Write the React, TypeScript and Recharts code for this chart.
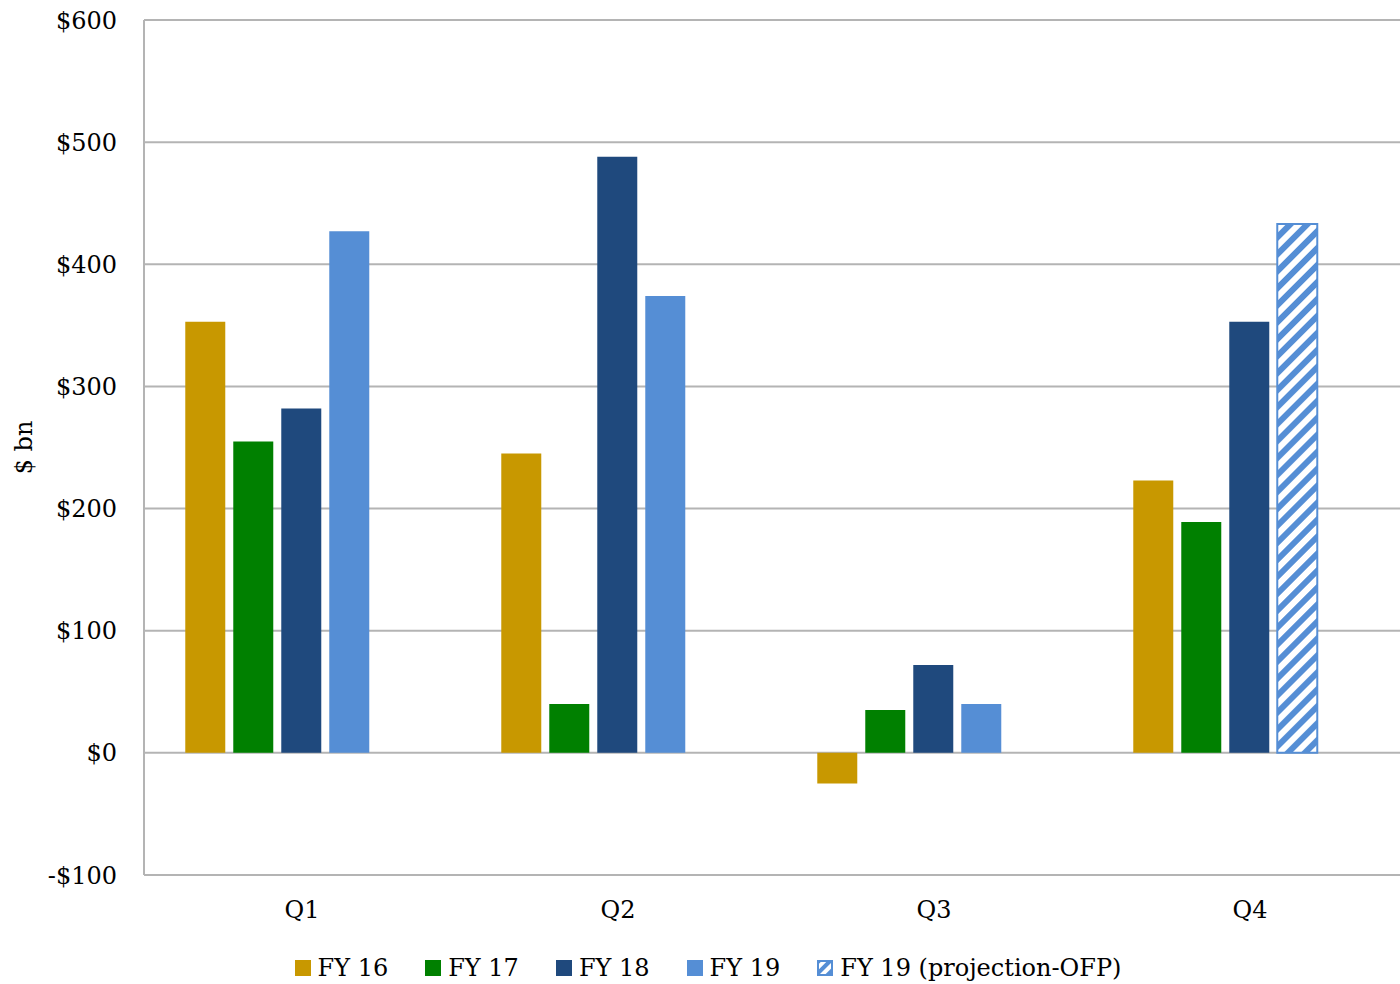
import * as React from "react"
import { BarChart, Bar, XAxis, YAxis, CartesianGrid, Cell } from "recharts"

// Quarterly values in $ bn, one array per fiscal year
const quarters = ["Q1", "Q2", "Q3", "Q4"]
const fy16 = [353, 245, -25, 223]
const fy17 = [255, 40, 35, 189]
const fy18 = [282, 488, 72, 353]
const fy19 = [427, 374, 40, null]
const fy19Projection = [null, null, null, 433]
const yTicks = [-100, 0, 100, 200, 300, 400, 500, 600]

const COLORS = {
  fy16: "#C89800",
  fy17: "#008000",
  fy18: "#1F497D",
  fy19: "#558ED5",
}

const FONT = "'DejaVu Serif', 'Liberation Serif', serif"
const FONT_SIZE = 24
const GRID = "#B4B4B4"

const data = quarters.map((q, i) => ({
  quarter: q,
  fy16: fy16[i],
  fy17: fy17[i],
  fy18: fy18[i],
  // the projection shares the FY 19 slot, drawn with a hatch
  fy19: fy19[i] ?? fy19Projection[i],
  projected: fy19[i] == null && fy19Projection[i] != null,
  // empty fifth slot kept from the projection series, so groups sit left of the tick
  spare: null as number | null,
}))

const formatDollar = (v: number) => (v < 0 ? `-$${-v}` : `$${v}`)

const legendItems = [
  { label: "FY 16", color: COLORS.fy16 },
  { label: "FY 17", color: COLORS.fy17 },
  { label: "FY 18", color: COLORS.fy18 },
  { label: "FY 19", color: COLORS.fy19 },
  { label: "FY 19 (projection-OFP)", color: COLORS.fy19, hatched: true },
]

const HatchSwatch = () => (
  <svg width={16} height={16} style={{ display: "block" }}>
    <defs>
      <pattern id="legend-hatch" patternUnits="userSpaceOnUse" width={8} height={8} patternTransform="rotate(45)">
        <rect width={8} height={8} fill="#fff" />
        <rect width={4} height={8} fill={COLORS.fy19} />
      </pattern>
    </defs>
    <rect x={1} y={1} width={14} height={14} fill="url(#legend-hatch)" stroke={COLORS.fy19} strokeWidth={2} />
  </svg>
)

const ChartLegend = () => (
  <div
    style={{
      position: "absolute",
      top: 952,
      left: 0,
      width: 1400,
      paddingLeft: 16,
      boxSizing: "border-box",
      display: "flex",
      justifyContent: "center",
      alignItems: "center",
      fontFamily: FONT,
      fontSize: FONT_SIZE,
      lineHeight: "32px",
      color: "#000",
    }}
  >
    {legendItems.map((item, i) => (
      <div key={item.label} style={{ display: "flex", alignItems: "center", marginLeft: i === 0 ? 0 : 37 }}>
        {item.hatched ? (
          <HatchSwatch />
        ) : (
          <div style={{ width: 16, height: 16, background: item.color }} />
        )}
        <span style={{ marginLeft: 7 }}>{item.label}</span>
      </div>
    ))}
  </div>
)

const AxisTitle = ({ viewBox }: any) => {
  const cx = 32
  const cy = viewBox.y + viewBox.height / 2
  return (
    <text
      x={cx}
      y={cy}
      transform={`rotate(-90 ${cx} ${cy})`}
      textAnchor="middle"
      fontFamily={FONT}
      fontSize={FONT_SIZE}
      fill="#000"
    >
      $ bn
    </text>
  )
}

export default function App() {
  return (
    <div
      style={{
        position: "absolute",
        left: 0,
        top: 0,
        width: 1400,
        height: 984,
        overflow: "hidden",
        background: "#fff",
      }}
    >
      {/* plot runs a little past the right edge of the frame */}
      <BarChart
        width={1408}
        height={984}
        data={data}
        margin={{ top: 20, right: 0, left: 0, bottom: 49 }}
        barCategoryGap="13.06%"
        barGap={8}
      >
        <defs>
          <pattern id="fy19-hatch" patternUnits="userSpaceOnUse" width={12} height={12} patternTransform="rotate(45)">
            <rect width={12} height={12} fill="#fff" />
            <rect width={6} height={12} fill={COLORS.fy19} />
          </pattern>
        </defs>
        <CartesianGrid vertical={false} stroke={GRID} strokeWidth={2} />
        <XAxis
          dataKey="quarter"
          height={60}
          axisLine={false}
          tickLine={false}
          tickMargin={20}
          tick={{ fontFamily: FONT, fontSize: FONT_SIZE, fill: "#000" }}
        />
        <YAxis
          width={144}
          domain={[-100, 600]}
          ticks={yTicks}
          interval={0}
          tickFormatter={formatDollar}
          axisLine={{ stroke: GRID, strokeWidth: 2 }}
          tickLine={false}
          tickMargin={21}
          tick={{ fontFamily: FONT, fontSize: FONT_SIZE, fill: "#000" }}
          label={{ content: AxisTitle }}
        />
        <Bar dataKey="fy16" name="FY 16" fill={COLORS.fy16} isAnimationActive={false} />
        <Bar dataKey="fy17" name="FY 17" fill={COLORS.fy17} isAnimationActive={false} />
        <Bar dataKey="fy18" name="FY 18" fill={COLORS.fy18} isAnimationActive={false} />
        <Bar dataKey="fy19" name="FY 19" fill={COLORS.fy19} isAnimationActive={false}>
          {data.map((d) => (
            <Cell
              key={d.quarter}
              fill={d.projected ? "url(#fy19-hatch)" : COLORS.fy19}
              stroke={d.projected ? COLORS.fy19 : "none"}
              strokeWidth={d.projected ? 2 : 0}
            />
          ))}
        </Bar>
        <Bar dataKey="spare" fill="none" isAnimationActive={false} />
      </BarChart>
      <ChartLegend />
    </div>
  )
}
